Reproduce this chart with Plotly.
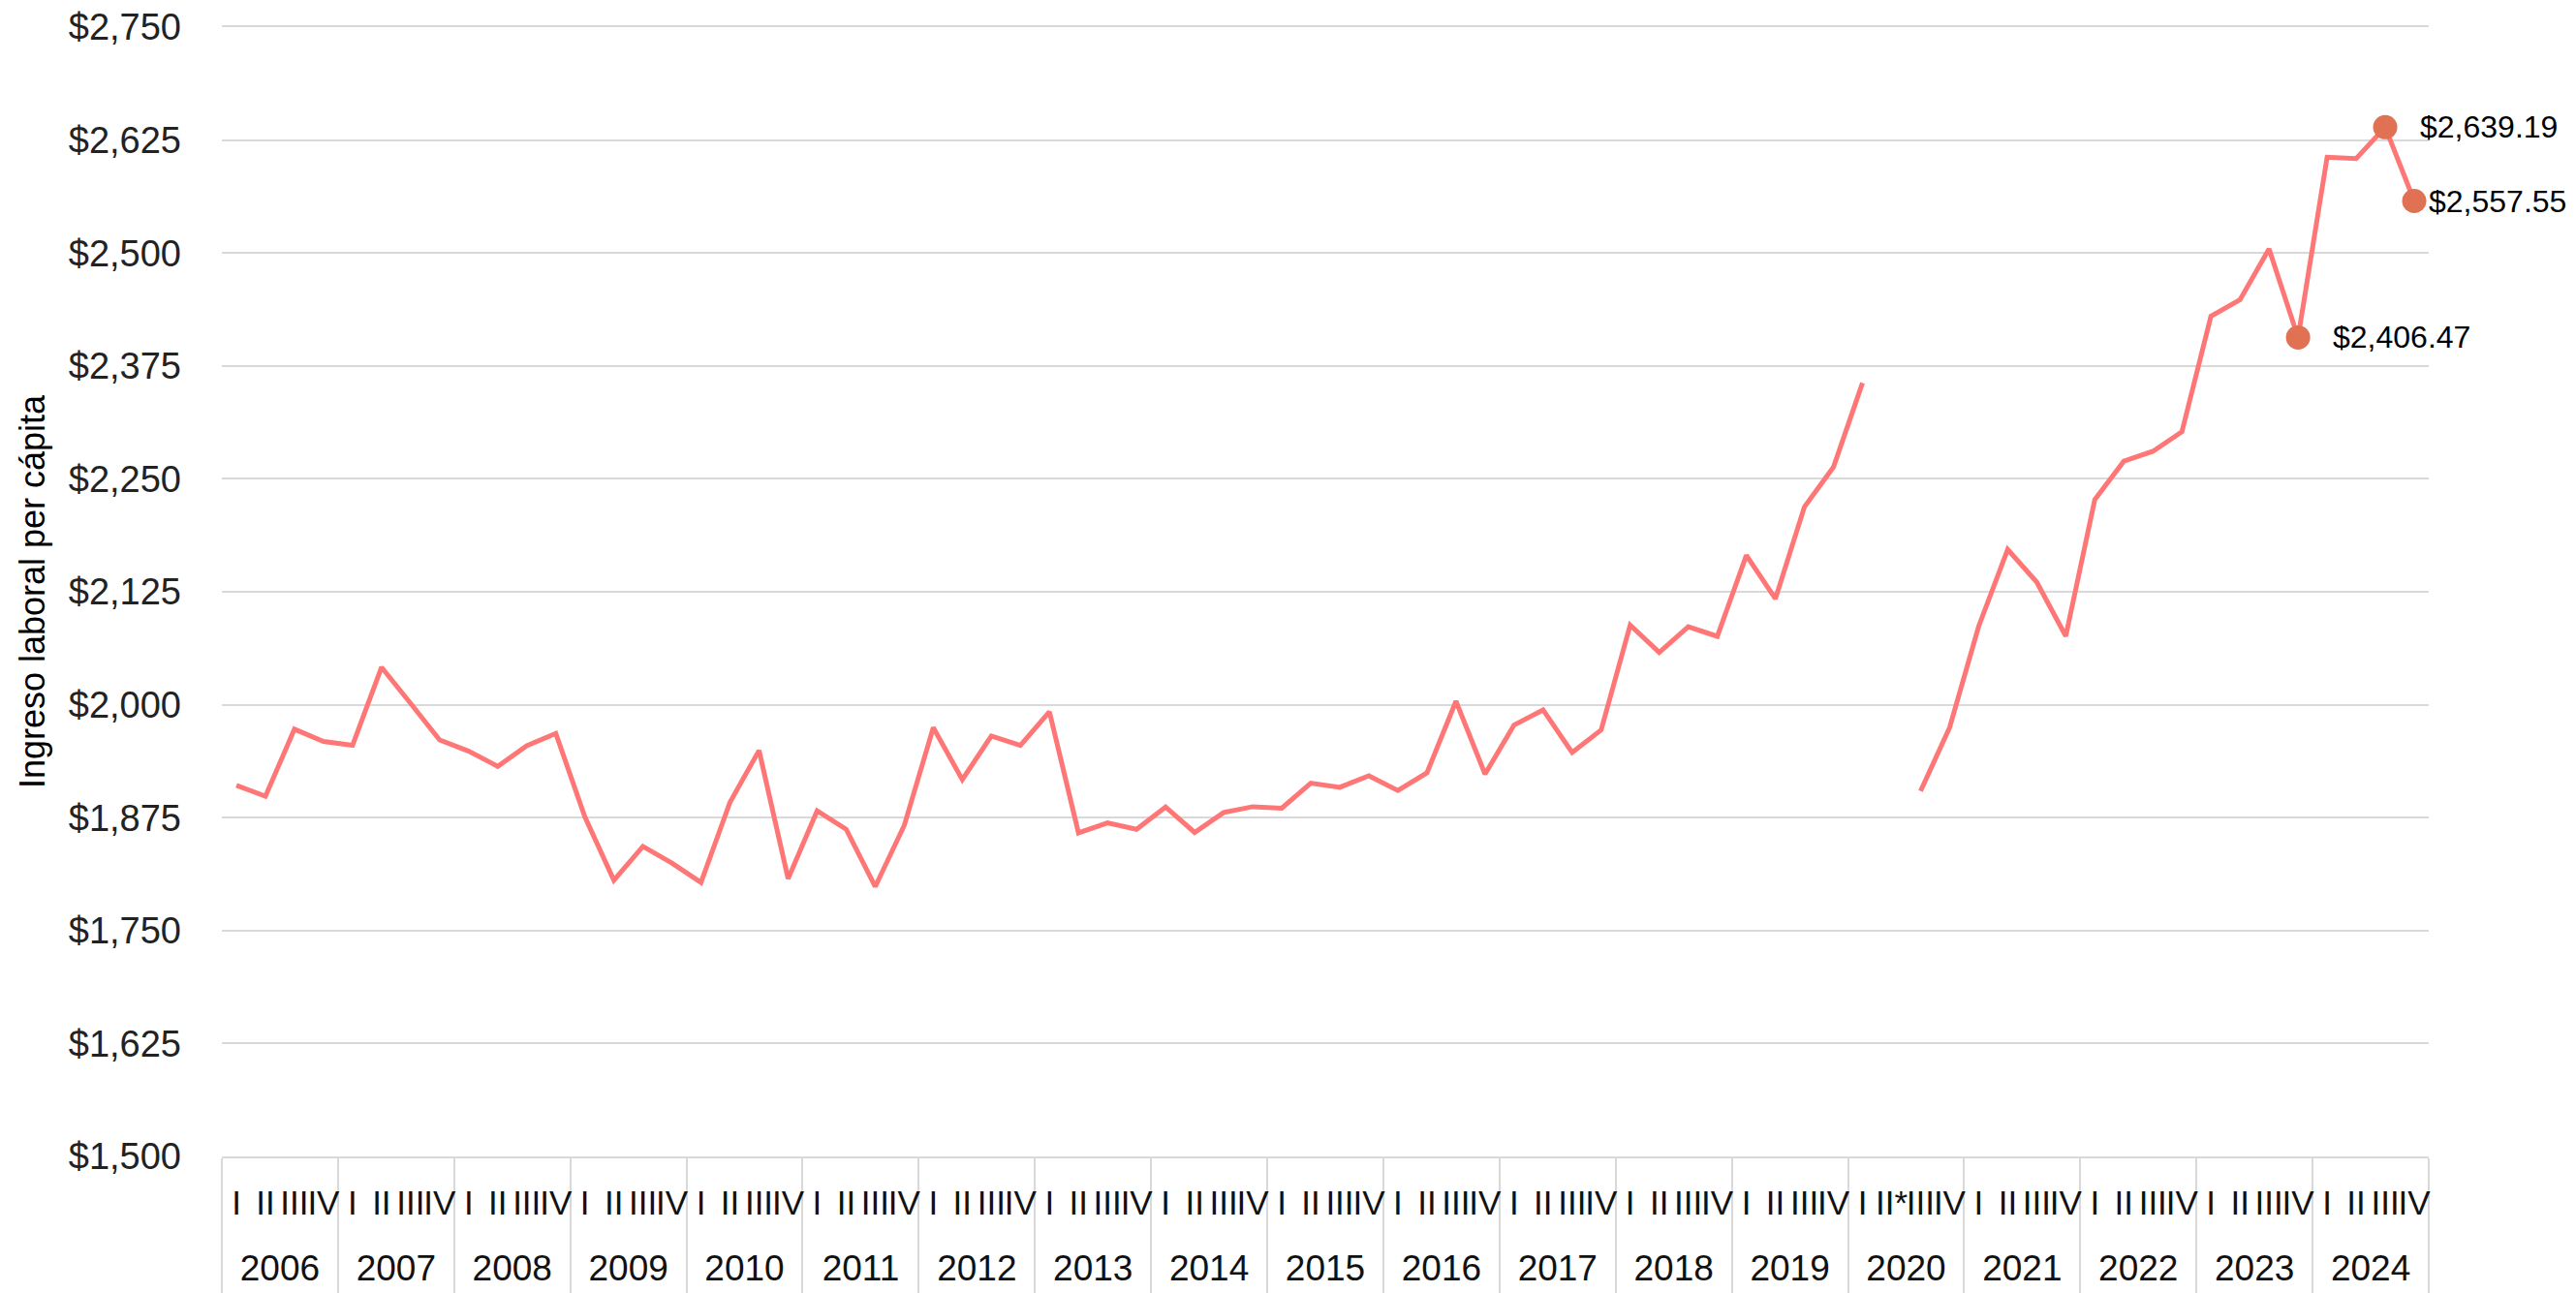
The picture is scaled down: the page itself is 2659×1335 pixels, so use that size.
import plotly.graph_objects as go

years = [str(y) for y in range(2006, 2025)]
quarters = ["I", "II", "III", "IV"]
quarters_2020 = ["I", "II*", "III", "IV"]

ingreso = [
    1910.7, 1898.6, 1972.9, 1959.3,   # 2006
    1955.0, 2041.4, 2001.4, 1961.0,   # 2007
    1948.6, 1931.8, 1954.6, 1968.2,   # 2008
    1876.0, 1805.7, 1843.2, 1824.6,   # 2009
    1803.2, 1892.1, 1949.3, 1807.5,   # 2010
    1882.5, 1862.1, 1798.6, 1866.4,   # 2011
    1974.6, 1917.1, 1965.4, 1955.0,   # 2012
    1992.1, 1858.2, 1869.3, 1862.1,   # 2013
    1886.8, 1858.6, 1880.7, 1887.1,   # 2014
    1885.4, 1913.2, 1908.6, 1921.4,   # 2015
    1905.0, 1924.6, 2003.9, 1923.2,   # 2016
    1977.5, 1994.3, 1947.1, 1972.1,   # 2017
    2088.2, 2057.9, 2086.4, 2075.7,   # 2018
    2165.3, 2117.3, 2219.0, 2263.0,   # 2019
    2356.2, None, 1904.5, 1974.7,     # 2020
    2086.7, 2171.8, 2135.7, 2075.9,   # 2021
    2227.0, 2269.6, 2280.5, 2302.1,   # 2022
    2430.0, 2448.2, 2504.6, 2406.47,  # 2023
    2606.1, 2604.6, 2639.19, 2557.55, # 2024
]

highlight_idx = [71, 74, 75]
highlight_labels = ["$2,406.47", "$2,639.19", "$2,557.55"]
label_shift = [34, 34, 13]

# quarter labels and their positions (one slot per quarter)
x_q = []
for y in years:
    x_q.extend(quarters_2020 if y == "2020" else quarters)
x_pos = list(range(len(x_q)))
n_q = len(quarters)
year_pos = [k * n_q + (n_q - 1) / 2 for k in range(len(years))]

LINE = "#FF7676"
MARK = "#E07153"
GRID = "#D9D9D9"
FONT = "Liberation Sans, Arial, sans-serif"
XRANGE = [-0.5, len(x_q) - 0.5]

fig = go.Figure()
fig.add_trace(go.Scatter(
    x=x_pos, y=ingreso, mode="lines",
    line=dict(color=LINE, width=5), connectgaps=False,
    showlegend=False, hoverinfo="skip",
))
fig.add_trace(go.Scatter(
    x=[x_pos[i] for i in highlight_idx],
    y=[ingreso[i] for i in highlight_idx],
    mode="markers", marker=dict(color=MARK, size=25),
    showlegend=False,
))
# carrier for the year-level axis
fig.add_trace(go.Scatter(
    x=year_pos, y=[None] * len(year_pos), xaxis="x2", mode="lines",
    showlegend=False, hoverinfo="skip",
))

for i, lab, sh in zip(highlight_idx, highlight_labels, label_shift):
    fig.add_annotation(
        x=x_pos[i], y=ingreso[i], text=lab, showarrow=False,
        xanchor="left", yanchor="middle", xshift=sh,
        font=dict(size=32, color="#000000", family=FONT),
    )

# the page body adds an 8px offset; size the figure so the plot area lands at 229..2507 x 28..1194
fig.update_layout(
    width=2651, height=1327,
    margin=dict(l=221, r=152, t=20, b=141),
    plot_bgcolor="white", paper_bgcolor="white",
    font=dict(family=FONT, size=38, color="#222222"),
    showlegend=False,
    xaxis=dict(
        range=XRANGE, tickmode="array", tickvals=x_pos, ticktext=x_q,
        tickangle=0, ticks="", ticklabelstandoff=16,
        tickfont=dict(size=35, color="#111111"),
        showgrid=False, zeroline=False, automargin=False,
        showline=True, mirror=True, linecolor=GRID, linewidth=2,
        minor=dict(tickmode="linear", tick0=-0.5, dtick=n_q, ticks="outside",
                   ticklen=150, tickwidth=2, tickcolor=GRID, showgrid=False),
    ),
    xaxis2=dict(
        overlaying="x", anchor="free", position=0, side="bottom",
        range=XRANGE, tickmode="array", tickvals=year_pos, ticktext=years,
        tickangle=0, ticks="", ticklabelstandoff=90,
        tickfont=dict(size=37, color="#111111"),
        showgrid=False, zeroline=False, showline=False, automargin=False,
    ),
    yaxis=dict(
        range=[1500, 2750], dtick=125, tick0=1500,
        tickprefix="$", tickformat=",",
        showgrid=True, gridcolor=GRID, gridwidth=2,
        zeroline=False, showline=False, automargin=False,
        ticks="", ticklabelstandoff=41, ticklabeloverflow="allow",
        tickfont=dict(size=38, color="#222222"),
        title=dict(text="Ingreso laboral per cápita",
                   font=dict(size=36, color="#000000"), standoff=13),
    ),
)

fig.write_html("out.html")
